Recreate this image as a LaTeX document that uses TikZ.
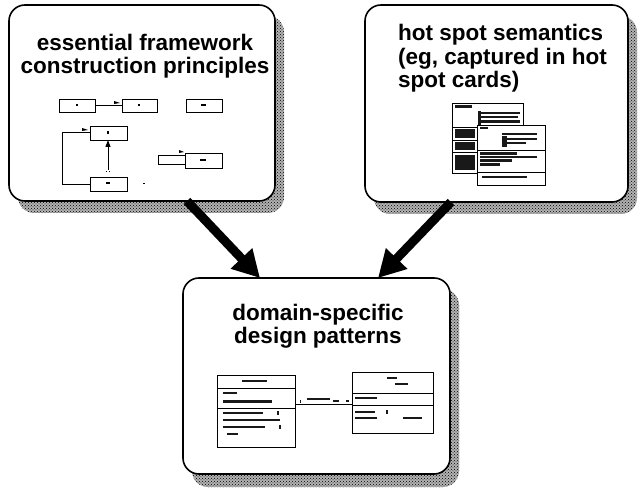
\documentclass[tikz,border=0pt]{standalone}
\usepackage{fontspec}
\setmainfont{Liberation Sans}
\usetikzlibrary{patterns,arrows.meta}

\begin{document}
\begin{tikzpicture}[x=1pt,y=-1pt,
  panel/.style={draw=black, line width=1.6pt, rounded corners=16pt, fill=white, inner sep=0pt},
  shadetone/.style={fill=black!30, rounded corners=16pt},
  shadedots/.style={pattern=crosshatch dots, pattern color=black, rounded corners=16pt},
  title/.style={font=\bfseries\fontsize{22.5}{23.5}\selectfont, inner sep=0pt},
  bigarrow/.style={line width=9pt, -{Triangle[length=27pt,width=28pt]}},
  cls/.style={draw, line width=0.9pt, fill=white},
  wire/.style={line width=0.9pt},
  ink/.style={fill=black!90},
  ]
\useasboundingbox (0,0) rectangle (638,489);
\fill[white] (0,0) rectangle (638,489);

% ---- halftone drop shadows ----
\fill[shadetone] (18,16) rectangle (284,213);
\fill[shadedots] (18,16) rectangle (284,213);
\fill[shadetone] (374,16) rectangle (637,214);
\fill[shadedots] (374,16) rectangle (637,214);
\fill[shadetone] (192,289) rectangle (459,487);
\fill[shadedots] (192,289) rectangle (459,487);

% ---- panels ----
\draw[panel] (9,5) rectangle (275,201);
\draw[panel] (365,5) rectangle (628,202);
\draw[panel] (183,278) rectangle (450,474);

% ---- titles ----
\node[title, align=center] (t1) at (145,56) {essential framework\\construction principles};
\node[title, align=left, anchor=north west] (t2) at (398,24) {hot spot semantics\\(eg, captured in hot\\spot cards)};
\node[title, align=center] (t3) at (318,326) {domain-specific\\design patterns};

% ---- framework sketch: small class boxes ----
\draw[cls] (59,99) rectangle (95,112);
\draw[cls] (122,99) rectangle (157,112);
\draw[cls] (186,99) rectangle (222,112);
\draw[cls] (90,126) rectangle (127,140);
\draw[cls] (90,177) rectangle (127,191);
\draw[cls] (158,155) rectangle (186,164);
\draw[cls] (185,153) rectangle (222,168);
\coordinate (fa) at (95,105);
\coordinate (fb) at (122,105);
\draw[wire] (fa) -- (fb);
\fill (114,101) -- (120,103) -- (114,104) -- cycle;
\coordinate (fd) at (108,140);
\coordinate (fe) at (108,170);
\draw[wire, -{Triangle[length=7pt,width=5pt]}] (fe) -- (fd);
\fill (106,171) rectangle (107,172);
\fill (109,171) rectangle (110,172);
\draw[wire] (90,184) -- (62,184) -- (62,132) -- (90,132);
\fill (82,128) -- (88,130) -- (82,131) -- cycle;
\fill (179,150) -- (184,152) -- (179,153) -- cycle;
\fill (143,183) rectangle (144.5,184);
% tiny labels inside the boxes
\fill (76,104) rectangle (78,106);
\fill (138,104) rectangle (140,106);
\fill (201,104) rectangle (206,106);
\fill (107,131) rectangle (109,134);
\fill (106,182) rectangle (110,184);
\fill (200,159) rectangle (206,161);

% ---- hot spot cards ----
\draw[cls] (452,103) rectangle (523,173);
\draw[wire] (452,127) -- (523,127);
\draw[wire] (452,140) -- (477,140);
\draw[wire] (452,152) -- (477,152);
\fill[ink] (455,105) rectangle (472,108);
\fill[ink] (480,112) rectangle (520,114);
\fill[ink] (480,116) rectangle (518,118);
\fill[ink] (480,120) rectangle (520,123);
\fill[ink] (478,111) rectangle (481,125);
\fill[ink] (455,129) rectangle (475,138);
\fill[ink] (455,142) rectangle (475,150);
\fill[ink] (455,155) rectangle (475,170);
\draw[cls] (477,125) rectangle (545,185);
\draw[wire] (477,150) -- (545,150);
\draw[wire] (477,172) -- (545,172);
\fill[ink] (480,127) rectangle (488,129);
\fill[ink] (502,133) rectangle (537,135);
\fill[ink] (502,138) rectangle (537,140);
\fill[ink] (502,142) rectangle (526,144);
\fill[ink] (502,136) rectangle (507,147);
\fill[ink] (480,152) rectangle (517,155);
\fill[ink] (480,156) rectangle (537,158);
\fill[ink] (480,159) rectangle (512,162);
\fill[ink] (480,163) rectangle (500,166);
\fill[ink] (482,176) rectangle (527,178);

% ---- design pattern classes ----
\draw[cls] (217,375) rectangle (295,447);
\draw[wire] (217,388) -- (295,388);
\draw[wire] (217,408) -- (295,408);
\fill[ink] (242,380) rectangle (267,382);
\fill[ink] (223,392) rectangle (237,394);
\fill[ink] (223,400) rectangle (272,403);
\fill[ink] (223,412) rectangle (263,414);
\fill[ink] (277,411) rectangle (279,415);
\fill[ink] (223,419) rectangle (280,421);
\fill[ink] (223,426) rectangle (265,428);
\fill[ink] (279,425) rectangle (281,429);
\fill[ink] (227,433) rectangle (238,435);
\draw[cls] (352,372) rectangle (433,433);
\draw[wire] (352,393) -- (433,393);
\draw[wire] (352,405) -- (433,405);
\fill[ink] (387,377) rectangle (397,379);
\fill[ink] (395,383) rectangle (408,385);
\fill[ink] (355,397) rectangle (377,399);
\fill[ink] (355,411) rectangle (375,413);
\fill[ink] (386,410) rectangle (388,414);
\fill[ink] (355,417) rectangle (377,419);
\fill[ink] (403,417) rectangle (422,419);
\coordinate (ca) at (295,404);
\coordinate (cb) at (352,404);
\draw[wire] (ca) -- (cb);
\fill[ink] (307,398) rectangle (330,400);
\fill[ink] (333,400) rectangle (339,402);
\fill[ink] (300,400) rectangle (301,403);
\fill[ink] (346,400) rectangle (349,402);

% ---- connecting arrows ----
\coordinate (a1s) at (187,201);
\coordinate (a1e) at (260,278);
\coordinate (a2s) at (451,202);
\coordinate (a2e) at (378,278);
\draw[bigarrow] (a1s) -- (a1e);
\draw[bigarrow] (a2s) -- (a2e);
\end{tikzpicture}
\end{document}
